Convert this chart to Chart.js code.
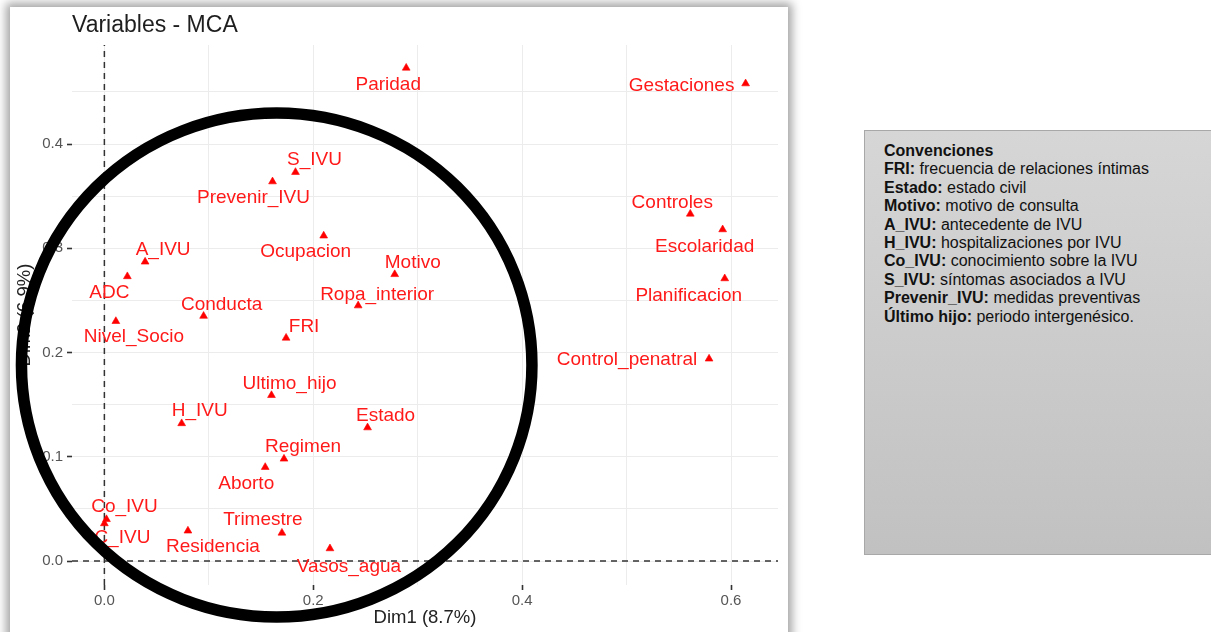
<!DOCTYPE html>
<html><head><meta charset="utf-8">
<script src="https://cdn.jsdelivr.net/npm/chart.js@4.4.0/dist/chart.umd.min.js"></script>
<style>
html,body{margin:0;padding:0;background:#fff;width:1211px;height:632px;overflow:hidden;font-family:"Liberation Sans",Arial,sans-serif;}
#frame{position:absolute;left:10px;top:7px;width:778px;height:660px;background:#fff;box-shadow:0 0 9px 4px rgba(0,0,0,0.36);}
#wrap{position:absolute;left:0;top:0;width:800px;height:632px;}
#legend{position:absolute;left:864px;top:130px;width:350px;height:425px;box-sizing:border-box;border:1px solid #a8a8a8;background:linear-gradient(#d6d6d6,#c1c1c1);padding:11px 0 0 19px;font-size:16px;line-height:18.4px;color:#111;white-space:nowrap;}
</style></head><body>
<div id="frame"></div>
<div id="wrap"><canvas id="c"></canvas></div>
<div id="legend"></div>
<script>
// ---- data ----
const chartTitle = 'Variables - MCA';
const xAxisTitle = 'Dim1 (8.7%)';
const yAxisTitle = 'Dim2 (6.9%)';
const categories = ['Paridad','Gestaciones','S_IVU','Prevenir_IVU','Controles','Escolaridad','Ocupacion','A_IVU','Motivo','ADC','Planificacion','Ropa_interior','Conducta','Nivel_Socio','FRI','Control_penatral','Ultimo_hijo','H_IVU','Estado','Regimen','Aborto','Co_IVU','C_IVU','Trimestre','Residencia','Vasos_agua'];
const dim1 = [0.289,0.614,0.183,0.161,0.561,0.592,0.210,0.039,0.278,0.022,0.594,0.243,0.095,0.011,0.174,0.579,0.160,0.074,0.252,0.172,0.154,0.002,0.000,0.170,0.080,0.216];
const dim2 = [0.473,0.458,0.373,0.364,0.333,0.318,0.312,0.287,0.275,0.273,0.271,0.245,0.235,0.230,0.214,0.194,0.159,0.132,0.128,0.098,0.090,0.040,0.036,0.027,0.029,0.012];
const xTickValues = [0.0,0.2,0.4,0.6];
const xTickLabels = ['0.0','0.2','0.4','0.6'];
const yTickValues = [0.0,0.1,0.2,0.3,0.4];
const yTickLabels = ['0.0','0.1','0.2','0.3','0.4'];
const xGridValues = [0.0,0.1,0.2,0.3,0.4,0.5,0.6];
const yGridValues = [0.0,0.05,0.1,0.15,0.2,0.25,0.3,0.35,0.4,0.45];
const xRange = [-0.031, 0.645];
const yRange = [-0.023, 0.495];
// annotation ellipse (data units): center and radii
const ellipseCenter = [0.165, 0.188];
const ellipseRadii = [0.2444, 0.2417];
const legendTerms = ['FRI:','Estado:','Motivo:','A_IVU:','H_IVU:','Co_IVU:','S_IVU:','Prevenir_IVU:','Último hijo:'];
const legendTexts = ['frecuencia de relaciones íntimas','estado civil','motivo de consulta','antecedente de IVU','hospitalizaciones por IVU','conocimiento sobre la IVU','síntomas asociados a IVU','medidas preventivas','periodo intergenésico.'];
const legendHeading = 'Convenciones';

// ---- layout (pixel offsets of text labels from their points) ----
const labelOffsets = [[-18,17],[-64,2],[19,-12],[-19,16],[-18,-11],[-18,17],[-18,16],[18,-12],[18,-12],[-18,16],[-36,17],[19,-11],[18,-11],[18,16],[18,-11],[-82,1],[18,-12],[18,-13],[18,-12],[19,-12],[-19,17],[18,-13],[18,14],[-19,-13],[25,16],[19,18]];

// legend box
const lg = document.getElementById('legend');
let html = '<div><b>' + legendHeading + '</b></div>';
legendTerms.forEach((t,i)=>{ html += '<div><b>' + t + '</b> ' + legendTexts[i] + '</div>'; });
lg.innerHTML = html;

const FONT = '"Liberation Sans", Arial, sans-serif';
const near = (v, arr) => arr.findIndex(a => Math.abs(a - v) < 1e-6);

const labelPlugin = {
  id: 'labels',
  afterDatasetsDraw(chart) {
    const ctx = chart.ctx;
    const meta = chart.getDatasetMeta(0);
    ctx.save();
    ctx.font = '19px ' + FONT;
    ctx.fillStyle = '#ff1a1a';
    ctx.textAlign = 'center';
    ctx.textBaseline = 'middle';
    meta.data.forEach((el, i) => {
      ctx.fillText(categories[i], el.x + labelOffsets[i][0], el.y + labelOffsets[i][1]);
    });
    ctx.restore();
  },
  afterDraw(chart) {
    const ctx = chart.ctx;
    const xs = chart.scales.x, ys = chart.scales.y;
    // title
    ctx.save();
    ctx.font = '23px ' + FONT;
    ctx.fillStyle = '#1e1e1e';
    ctx.textAlign = 'left';
    ctx.textBaseline = 'middle';
    ctx.fillText(chartTitle, chart.chartArea.left, 26);
    // ellipse annotation
    const cx = xs.getPixelForValue(ellipseCenter[0]);
    const cy = ys.getPixelForValue(ellipseCenter[1]);
    const rx = xs.getPixelForValue(ellipseCenter[0] + ellipseRadii[0]) - cx;
    const ry = cy - ys.getPixelForValue(ellipseCenter[1] + ellipseRadii[1]);
    ctx.beginPath();
    ctx.ellipse(cx, cy, rx, ry, 0, 0, Math.PI * 2);
    ctx.lineWidth = 11.5;
    ctx.strokeStyle = '#000';
    ctx.stroke();
    ctx.restore();
  }
};

new Chart(document.getElementById('c'), {
  type: 'scatter',
  data: {
    datasets: [
      {
        data: dim1.map((x, i) => ({x, y: dim2[i]})),
        pointStyle: 'triangle',
        pointRadius: 4.5,
        pointBorderWidth: 0.6,
        pointBackgroundColor: '#ff0000',
        pointBorderColor: '#ff0000',
        order: 0
      },
      {
        type: 'line',
        data: [{x: 0, y: yRange[0]}, {x: 0, y: yRange[1]}],
        borderColor: '#333',
        borderWidth: 1.5,
        borderDash: [6, 5],
        pointRadius: 0,
        order: 2
      },
      {
        type: 'line',
        data: [{x: xRange[0], y: 0}, {x: xRange[1], y: 0}],
        borderColor: '#333',
        borderWidth: 1.5,
        borderDash: [6, 5],
        pointRadius: 0,
        order: 2
      }
    ]
  },
  options: {
    responsive: true,
    maintainAspectRatio: false,
    animation: false,
    layout: {padding: {top: 45, right: 22, left: 0, bottom: 0}},
    plugins: {legend: {display: false}, tooltip: {enabled: false}},
    scales: {
      x: {
        type: 'linear',
        min: xRange[0], max: xRange[1],
        afterBuildTicks: s => { s.ticks = xGridValues.map(v => ({value: v})); },
        afterFit: s => { s.height = 47; },
        border: {display: false},
        grid: {
          color: '#ececec', lineWidth: 1,
          drawTicks: true, tickLength: 5, tickWidth: 1.6,
          tickColor: c => (c.tick && near(c.tick.value, xTickValues) >= 0) ? '#333' : 'rgba(0,0,0,0)'
        },
        ticks: {
          autoSkip: false, maxRotation: 0, padding: 2,
          color: '#555', font: {family: FONT, size: 15},
          callback: v => { const k = near(v, xTickValues); return k >= 0 ? xTickLabels[k] : ''; }
        },
        title: {display: true, text: xAxisTitle, color: '#222', font: {family: FONT, size: 18.5}, padding: {top: 0, bottom: 3}}
      },
      y: {
        type: 'linear',
        min: yRange[0], max: yRange[1],
        afterBuildTicks: s => { s.ticks = yGridValues.map(v => ({value: v})); },
        afterFit: s => { s.width = 72; },
        border: {display: false},
        grid: {
          color: '#ececec', lineWidth: 1,
          drawTicks: true, tickLength: 5, tickWidth: 1.6,
          tickColor: c => (c.tick && near(c.tick.value, yTickValues) >= 0) ? '#333' : 'rgba(0,0,0,0)'
        },
        ticks: {
          autoSkip: false, padding: 4,
          color: '#555', font: {family: FONT, size: 15},
          callback: v => { const k = near(v, yTickValues); return k >= 0 ? yTickLabels[k] : ''; }
        },
        title: {display: true, text: yAxisTitle, color: '#222', font: {family: FONT, size: 18.5}, padding: {top: 14, bottom: 0}}
      }
    }
  },
  plugins: [labelPlugin]
});
</script>
</body></html>
